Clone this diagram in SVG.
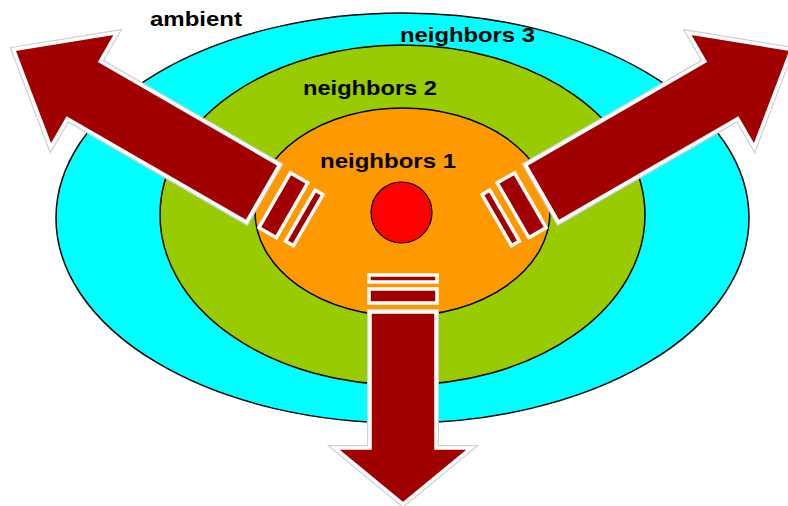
<svg xmlns="http://www.w3.org/2000/svg" xmlns:xlink="http://www.w3.org/1999/xlink" width="788" height="506" viewBox="0 0 788 506">
  <style>
    .zone { stroke: #000; stroke-width: 1.5; }
    .lbl { font-family: "Liberation Sans", Arial, sans-serif; font-weight: bold; font-size: 21px; fill: #000; }
    .halo { fill: none; stroke: #d0d0d0; stroke-width: 6; stroke-linejoin: miter; }
    .arr { fill: #a00000; stroke: #fff; stroke-width: 3.5; stroke-linejoin: miter; }
  </style>
  <defs>
    <g id="sideArrow">
      <polygon class="halo" points="0,-33 207,-33 207,-66 288,0 207,66 207,33 0,33"/>
      <polygon class="arr" points="0,-33 207,-33 207,-66 288,0 207,66 207,33 0,33"/>
      <rect class="arr" x="-33.5" y="-31.5" width="20" height="63"/>
      <rect class="arr" x="-52.5" y="-30" width="9" height="59"/>
    </g>
  </defs>
  <rect width="788" height="506" fill="#fff"/>
  <g id="ambient">
    <text class="lbl" x="150" y="26" textLength="92" lengthAdjust="spacingAndGlyphs">ambient</text>
  </g>
  <g id="neighbors3">
    <ellipse class="zone" cx="402.5" cy="218" rx="346.5" ry="205" fill="#00ffff"/>
  </g>
  <g id="neighbors2">
    <ellipse class="zone" cx="402.5" cy="215" rx="242.5" ry="170" fill="#99cc00"/>
  </g>
  <g id="neighbors1">
    <ellipse class="zone" cx="402.5" cy="212" rx="147.5" ry="104" fill="#ff9900"/>
  </g>
  <g id="center">
    <circle cx="401.5" cy="212.5" r="30.5" fill="#ff0000" stroke="#000" stroke-width="1.2"/>
  </g>
  <g id="labels">
    <text class="lbl" x="400" y="42" textLength="135" lengthAdjust="spacingAndGlyphs">neighbors 3</text>
    <text class="lbl" x="303" y="95" textLength="134" lengthAdjust="spacingAndGlyphs">neighbors 2</text>
    <text class="lbl" x="320" y="168" textLength="136" lengthAdjust="spacingAndGlyphs">neighbors 1</text>
  </g>
  <g id="connectors">
    <g id="arrowLeft" transform="translate(263,193.5) rotate(210)">
      <use xlink:href="#sideArrow" href="#sideArrow"/>
    </g>
    <g id="arrowRight" transform="translate(805,0) scale(-1,1) translate(263,193.5) rotate(210)">
      <use xlink:href="#sideArrow" href="#sideArrow"/>
    </g>
    <g id="arrowDown">
      <polygon class="halo" points="370,312 436,312 436,448 471,448 403,504 335,448 370,448"/>
      <polygon class="arr" points="370,312 436,312 436,448 471,448 403,504 335,448 370,448"/>
      <rect class="arr" x="369" y="289" width="68" height="14"/>
      <rect class="arr" x="369" y="275" width="68" height="7"/>
    </g>
  </g>
</svg>
